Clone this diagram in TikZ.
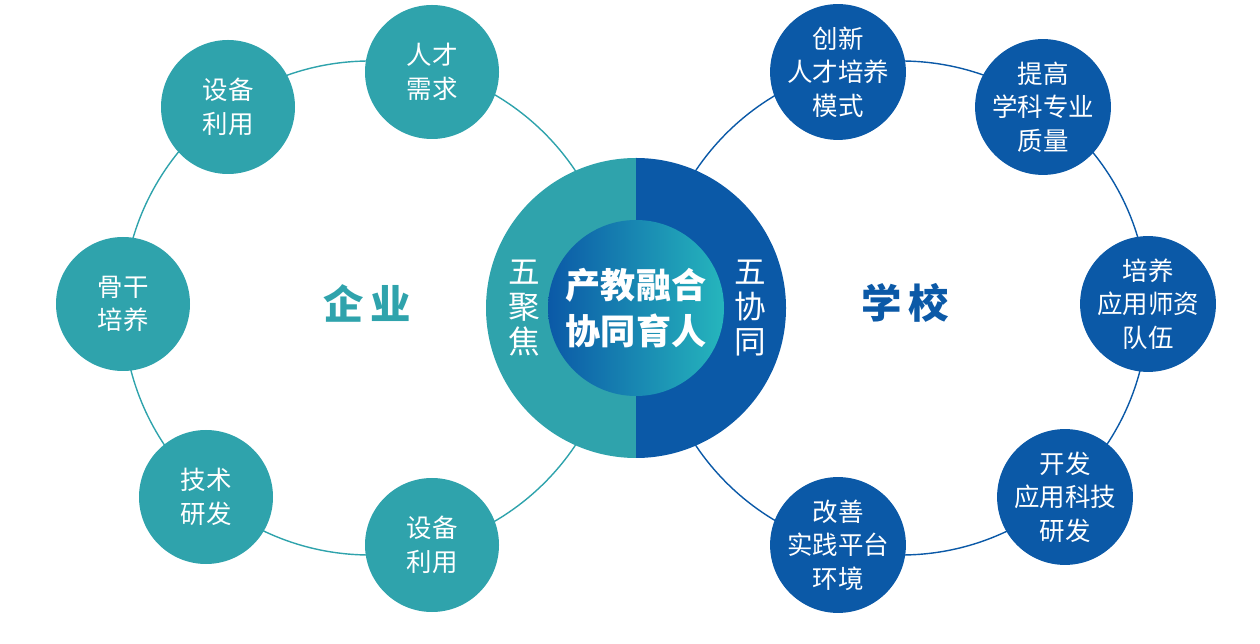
\documentclass[tikz,border=0pt]{standalone}
\usepackage{fontspec}
\setmainfont{Noto Sans CJK SC}
\usetikzlibrary{positioning}
\definecolor{qiteal}{HTML}{2FA3AC}
\definecolor{xiaoblue}{HTML}{0B59A7}
\begin{document}
\begin{tikzpicture}[x=0.02cm,y=-0.02cm,
      sat/.style = {shape=circle, minimum size=134*0.02cm, inner sep=0pt, align=center, text=white, font=\fontsize{14.5}{19}\selectfont},
      qsat/.style = {sat, fill=qiteal},
      xsat/.style = {sat, fill=xiaoblue},
      side/.style = {font=\bfseries\fontsize{23}{27}\selectfont},
      vert/.style = {align=center, text=white, font=\fontsize{18}{20}\selectfont}
    ]
  \useasboundingbox (0,0) rectangle (1260,644);
  % big rings
  \draw[qiteal, thick] (370,308) circle (247);
  \draw[xiaoblue, thick] (901,308) circle (247);
  % centre
  \fill[qiteal] (636,158) arc[start angle=-90, end angle=-270, radius=150] -- cycle;
  \fill[xiaoblue] (636,158) arc[start angle=-90, end angle=90, radius=150] -- cycle;
  \shade[left color=xiaoblue, right color=qiteal!80!cyan] (636,308) circle (88);
  \node[text=white, font=\bfseries\fontsize{20}{26}\selectfont, align=center] (core) at (636,308) {产教融合\\协同育人};
  \node[vert] (focus) at (524,308) {五\\聚\\焦};
  \node[vert] (synergy) at (750,308) {五\\协\\同};
  \node[side, text=qiteal] (firm) at (367,303) {企\,业};
  \node[side, text=xiaoblue] (school) at (905,303) {学\,校};
  % company side
  \node[qsat] (q1) at (432,72) {人才\\需求};
  \node[qsat] (q2) at (228,107) {设备\\利用};
  \node[qsat] (q3) at (123,304) {骨干\\培养};
  \node[qsat] (q4) at (206,497) {技术\\研发};
  \node[qsat] (q5) at (432,545) {设备\\利用};
  % school side
  \node[xsat] (x1) at (838,72) {创新\\人才培养\\模式};
  \node[xsat] (x2) at (1043,107) {提高\\学科专业\\质量};
  \node[xsat] (x3) at (1148,304) {培养\\应用师资\\队伍};
  \node[xsat] (x4) at (1065,497) {开发\\应用科技\\研发};
  \node[xsat] (x5) at (838,545) {改善\\实践平台\\环境};
\end{tikzpicture}
\end{document}
